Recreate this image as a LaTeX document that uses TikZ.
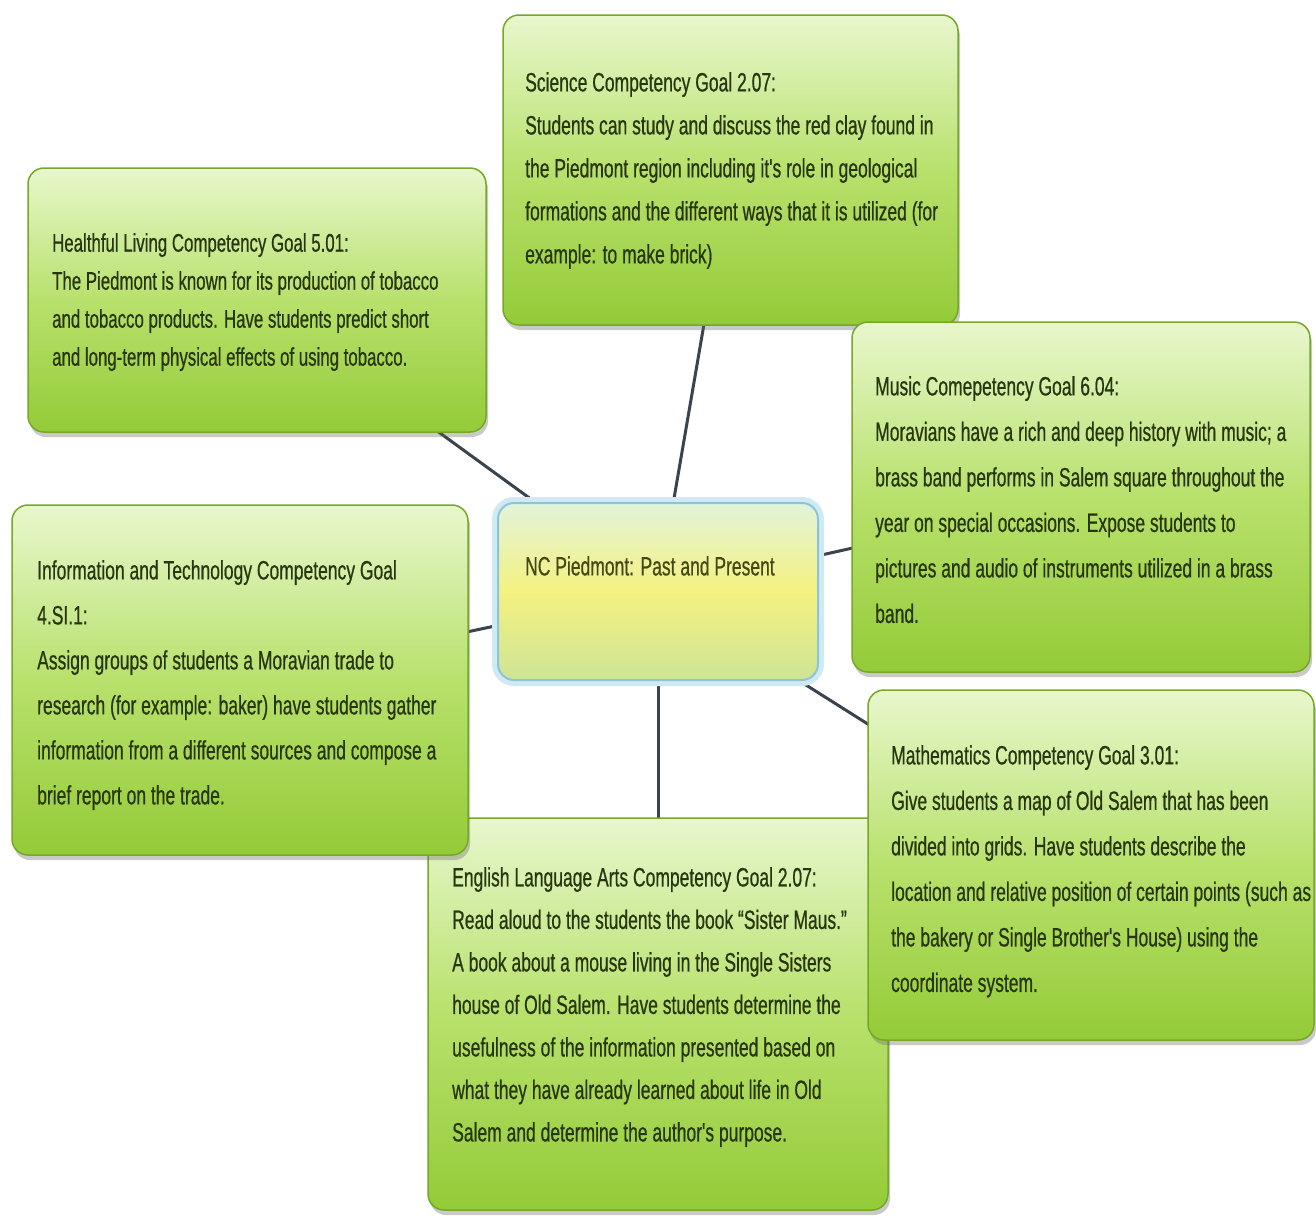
\documentclass[tikz,border=0pt]{standalone}
\usepackage{fontspec}
\newfontfamily\boxfont[FakeStretch=0.66,FakeBold=0.6]{Liberation Sans}
\usetikzlibrary{backgrounds,shadows}
\definecolor{txt}{RGB}{40,54,16}
\definecolor{gtop}{RGB}{232,247,205}
\definecolor{gmid}{RGB}{184,225,108}
\definecolor{gbot}{RGB}{148,203,56}
\definecolor{gedge}{RGB}{118,168,40}
\definecolor{ctop}{RGB}{226,243,218}
\definecolor{cmid}{RGB}{244,242,128}
\definecolor{cbot}{RGB}{206,228,150}
\definecolor{cedge}{RGB}{140,196,218}
\definecolor{cglow}{RGB}{208,234,244}
\definecolor{link}{RGB}{58,68,78}
\tikzset{
  greenbox/.style={rectangle, rounded corners=16pt, draw=gedge, line width=1.5pt,
    top color=gtop, bottom color=gbot, middle color=gmid,
    drop shadow={shadow xshift=2pt, shadow yshift=-5pt, opacity=0.35, fill=black!60},
    inner sep=0pt},
  centerbox/.style={rectangle, rounded corners=16pt, draw=cedge, line width=2pt,
    top color=ctop, bottom color=cbot, middle color=cmid,
    preaction={draw=cglow, line width=12pt},
    inner sep=0pt},
  boxtext/.style={anchor=north west, inner sep=0pt, align=left, text=txt},
  link/.style={draw=link, line width=3pt}
}
\begin{document}
\begin{tikzpicture}[x=1pt,y=-1pt]
\useasboundingbox (0,0) rectangle (1316,1224);

% English (drawn first, others overlap it)
\node[greenbox, minimum width=460pt, minimum height=392pt] (eng) at (658,1014) {};
\node[boxtext, font={\boxfont\fontsize{26.5}{42.5}\selectfont}] (engt) at (452,867)
 {English Language Arts Competency Goal 2.07:\\
  Read aloud to the students the book “Sister Maus.”\\
  A book about a mouse living in the Single Sisters\\
  house of Old Salem.  Have students determine the\\
  usefulness of the information presented based on\\
  what they have already learned about life in Old\\
  Salem and determine the author's purpose.};

% Information and Technology
\node[greenbox, minimum width=456pt, minimum height=350pt] (info) at (240,680) {};
\node[boxtext, font={\boxfont\fontsize{26.5}{45}\selectfont}] (infot) at (37,560)
 {Information and Technology Competency Goal\\
  4.SI.1:\\
  Assign groups of students a Moravian trade to\\
  research (for example: baker) have students gather\\
  information from a different sources and compose a\\
  brief report on the trade.};

% Mathematics
\node[greenbox, minimum width=446pt, minimum height=350pt] (math) at (1091,865) {};
\node[boxtext, font={\boxfont\fontsize{26.5}{45.5}\selectfont}] (matht) at (891,745)
 {Mathematics Competency Goal 3.01:\\
  Give students a map of Old Salem that has been\\
  divided into grids.  Have students describe the\\
  location and relative position of certain points (such as\\
  the bakery or Single Brother's House) using the\\
  coordinate system.};

% Science
\node[greenbox, minimum width=455pt, minimum height=310pt] (sci) at (730.5,170) {};
\node[boxtext, font={\boxfont\fontsize{26.5}{43}\selectfont}] (scit) at (525,72)
 {Science Competency Goal 2.07:\\
  Students can study and discuss the red clay found in\\
  the Piedmont region including it's role in geological\\
  formations and the different ways that it is utilized (for\\
  example: to make brick)};

% Healthful Living
\node[greenbox, minimum width=458pt, minimum height=264pt] (hl) at (257,300) {};
\node[boxtext, font={\boxfont\fontsize{25.5}{38}\selectfont}] (hlt) at (52,233)
 {Healthful Living Competency Goal 5.01:\\
  The Piedmont is known for its production of tobacco\\
  and tobacco products.  Have students predict short\\
  and long-term physical effects of using tobacco.};

% Music
\node[greenbox, minimum width=458pt, minimum height=350pt] (mus) at (1081,497) {};
\node[boxtext, font={\boxfont\fontsize{26.5}{45.5}\selectfont}] (must) at (875,376)
 {Music Comepetency Goal 6.04:\\
  Moravians have a rich and deep history with music; a\\
  brass band performs in Salem square throughout the\\
  year on special occasions.  Expose students to\\
  pictures and audio of instruments utilized in a brass\\
  band.};

% Centre
\node[centerbox, minimum width=320pt, minimum height=177pt] (cen) at (658,591.5) {};
\node[boxtext, font={\boxfont\fontsize{26.5}{40}\selectfont}, text={rgb,255:red,70;green,72;blue,20}] (cent) at (525,556)
 {NC Piedmont:  Past and Present};

\begin{scope}[on background layer]
  \fill[white] (0,0) rectangle (1316,1224);
  \draw[link] (cen.center) -- (sci.center);
  \draw[link] (cen.center) -- (hl.center);
  \draw[link] (cen.center) -- (mus.center);
  \draw[link] (cen.center) -- (info.center);
  \draw[link] (cen.center) -- (math.center);
  \draw[link] (cen.center) -- (eng.center);
\end{scope}
\end{tikzpicture}
\end{document}
